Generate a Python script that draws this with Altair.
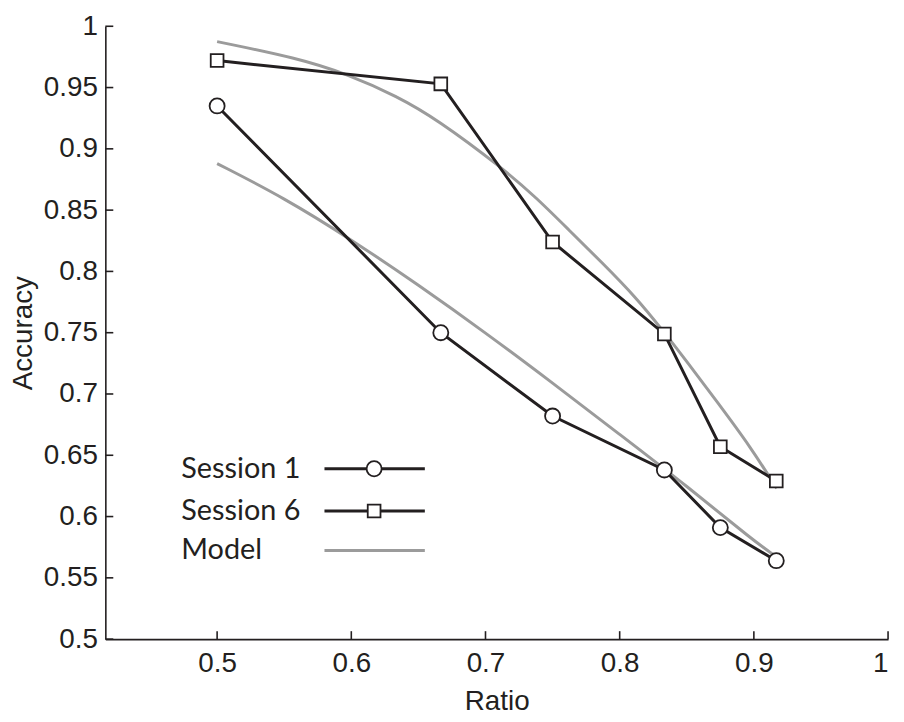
import altair as alt
import pandas as pd

# ---- data ----
ratios = [0.5, 0.6667, 0.75, 0.8333, 0.875, 0.9167]
session1 = [0.935, 0.750, 0.682, 0.638, 0.591, 0.564]
session6 = [0.972, 0.953, 0.824, 0.749, 0.657, 0.629]

model_upper_x = [0.5, 0.56, 0.597, 0.634, 0.664, 0.713, 0.738, 0.762, 0.787, 0.812, 0.832, 0.849, 0.873, 0.898, 0.917]
model_upper_y = [0.9875, 0.974, 0.961, 0.943, 0.924, 0.884, 0.860, 0.834, 0.807, 0.779, 0.752, 0.728, 0.693, 0.656, 0.623]
model_lower_x = [0.5, 0.55, 0.6, 0.65, 0.7, 0.75, 0.8, 0.85, 0.9, 0.917]
model_lower_y = [0.888, 0.860, 0.826, 0.789, 0.750, 0.709, 0.667, 0.625, 0.580, 0.567]

x_ticks = [0.5, 0.6, 0.7, 0.8, 0.9, 1.0]
y_ticks = [0.5, 0.55, 0.6, 0.65, 0.7, 0.75, 0.8, 0.85, 0.9, 0.95, 1.0]

legend_labels = ["Session 1", "Session 6", "Model"]
legend_y = [0.639, 0.6045, 0.5723]
legend_text_x = 0.4733
legend_line_x = [0.580, 0.6548]
legend_marker_x = 0.617

BLACK = "#231f20"
GREY = "#9b9b9b"
AXIS_FONT = "Liberation Sans"

W, H = 788, 617

xscale = alt.Scale(domain=[0.4167, 1.0], nice=False, zero=False)
yscale = alt.Scale(domain=[0.5, 1.0], nice=False, zero=False)
shape_scale = alt.Scale(domain=["Session 1", "Session 6"], range=["circle", "square"])
size_scale = alt.Scale(domain=["Session 1", "Session 6"], range=[230, 165])

X = alt.X("ratio:Q", scale=xscale, title="Ratio",
          axis=alt.Axis(values=x_ticks, format="~g", ticks=False, grid=False,
                        labelPadding=11, titlePadding=10))
Y = alt.Y("acc:Q", scale=yscale, title="Accuracy",
          axis=alt.Axis(values=y_ticks, format="~g", ticks=False, grid=False,
                        labelPadding=8, titlePadding=6))

sess = pd.DataFrame(
    {"ratio": ratios * 2,
     "acc": session1 + session6,
     "series": ["Session 1"] * len(ratios) + ["Session 6"] * len(ratios)}
)
model = pd.DataFrame(
    {"ratio": model_upper_x + model_lower_x,
     "acc": model_upper_y + model_lower_y,
     "curve": ["upper"] * len(model_upper_x) + ["lower"] * len(model_lower_x)}
)

model_lines = alt.Chart(model).mark_line(
    color=GREY, strokeWidth=3, interpolate="basis"
).encode(x=X, y=Y, detail="curve:N")

sess_lines = alt.Chart(sess).mark_line(color=BLACK, strokeWidth=3).encode(
    x=X, y=Y, detail="series:N",
)

sess_points = alt.Chart(sess).mark_point(
    filled=True, fill="white", stroke=BLACK, strokeWidth=1.8, opacity=1
).encode(
    x=X, y=Y,
    shape=alt.Shape("series:N", scale=shape_scale, legend=None),
    size=alt.Size("series:N", scale=size_scale, legend=None),
)

# ---- legend drawn inside the plot ----
leg_lines = pd.DataFrame(
    {"ratio": legend_line_x * 3,
     "acc": [legend_y[0]] * 2 + [legend_y[1]] * 2 + [legend_y[2]] * 2,
     "series": [legend_labels[0]] * 2 + [legend_labels[1]] * 2 + [legend_labels[2]] * 2}
)
leg_line_chart = alt.Chart(leg_lines).mark_line(strokeWidth=3).encode(
    x=X, y=Y,
    detail="series:N",
    color=alt.Color("series:N", scale=alt.Scale(domain=legend_labels, range=[BLACK, BLACK, GREY]), legend=None),
)
leg_pts = pd.DataFrame({"ratio": [legend_marker_x] * 2, "acc": legend_y[:2], "series": legend_labels[:2]})
leg_pt_chart = alt.Chart(leg_pts).mark_point(
    filled=True, fill="white", stroke=BLACK, strokeWidth=1.8, opacity=1
).encode(
    x=X, y=Y,
    shape=alt.Shape("series:N", scale=shape_scale, legend=None),
    size=alt.Size("series:N", scale=size_scale, legend=None),
)
leg_txt = pd.DataFrame({"ratio": [legend_text_x] * 3, "acc": legend_y, "label": legend_labels})
leg_txt_chart = alt.Chart(leg_txt).mark_text(
    align="left", baseline="middle", font="Lato", fontSize=29, color=BLACK
).encode(x=X, y=Y, text="label:N")

# ---- inward-pointing ticks ----
ytick_df = pd.DataFrame({"acc": y_ticks})
xtick_df = pd.DataFrame({"ratio": x_ticks})
ytick_rules = alt.Chart(ytick_df).mark_rule(color=BLACK, strokeWidth=1.6).encode(
    y=Y, x=alt.value(0), x2=alt.value(8),
)
xtick_rules = alt.Chart(xtick_df).mark_rule(color=BLACK, strokeWidth=1.6).encode(
    x=X, y=alt.value(H), y2=alt.value(H - 8),
)

chart = alt.layer(
    model_lines, sess_lines, sess_points,
    leg_line_chart, leg_pt_chart, leg_txt_chart,
    ytick_rules, xtick_rules,
).properties(
    width=W, height=H,
    autosize=alt.AutoSizeParams(type="none"),
    padding={"left": 98, "top": 16, "right": 8, "bottom": 75},
).configure_view(stroke=None).configure_axis(
    domainColor=BLACK, domainWidth=1.6,
    labelFont=AXIS_FONT, labelFontSize=28, labelColor=BLACK,
    titleFont=AXIS_FONT, titleFontSize=28, titleColor=BLACK, titleFontWeight="normal",
)

chart.save("out.html", embed_options={"renderer": "svg", "actions": False})
